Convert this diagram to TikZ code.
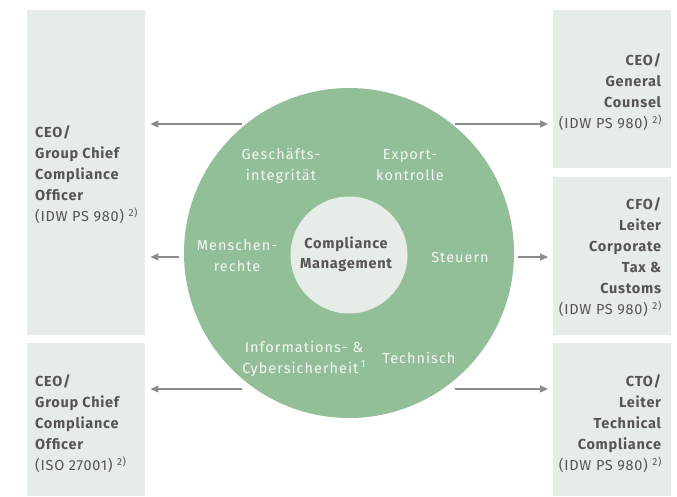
\documentclass[tikz,border=0pt]{standalone}
\usepackage{fontspec}
\setmainfont{Fira Sans}[LetterSpace=5]
\newfontfamily\ringfont{Fira Sans}[LetterSpace=7]
\usetikzlibrary{arrows.meta}
\definecolor{boxfill}{RGB}{230,237,230}
\definecolor{ringgreen}{RGB}{147,191,152}
\definecolor{txtdark}{RGB}{85,85,85}
\definecolor{arrowgray}{RGB}{140,140,140}
\definecolor{txtlight}{RGB}{244,247,244}
\newcommand{\hb}[1]{\textbf{#1}}
\begin{document}
\begin{tikzpicture}[x=1pt,y=-1pt,
  panel/.style={fill=boxfill, draw=none, rectangle, inner sep=0pt, anchor=north west},
  ptxt/.style={text=txtdark, inner sep=0pt, font=\fontsize{14.5}{21}\selectfont},
  ltxt/.style={ptxt, align=left, anchor=west},
  rtxt/.style={ptxt, align=right, anchor=east},
  ringtxt/.style={font=\ringfont\fontsize{14.5}{21}\selectfont, text=txtlight, align=center, inner sep=0pt},
  coretxt/.style={font=\fontsize{14.5}{20}\selectfont\bfseries, text=txtdark, align=center, inner sep=0pt},
  link/.style={draw=arrowgray, line width=1.2pt, -{Triangle[length=8pt,width=7pt]}, shorten >=5pt}
]
\useasboundingbox (0,0) rectangle (677,496);

% panels
\node[panel, minimum width=118pt, minimum height=325pt] (ltop) at (27,10) {};
\node[panel, minimum width=118pt, minimum height=153pt] (lbot) at (27,343) {};
\node[panel, minimum width=118pt, minimum height=158pt] (rtop) at (553,10) {};
\node[panel, minimum width=118pt, minimum height=158pt] (rmid) at (553,177) {};
\node[panel, minimum width=118pt, minimum height=153pt] (rbot) at (553,343) {};

% panel texts
\node[ltxt] (ltopt) at (35,175)
  {\hb{CEO/}\\\hb{Group Chief}\\\hb{Compliance}\\\hb{Officer}\\(IDW PS 980) \textsuperscript{2)}};
\node[ltxt] (lbott) at (35,424)
  {\hb{CEO/}\\\hb{Group Chief}\\\hb{Compliance}\\\hb{Officer}\\(ISO 27001) \textsuperscript{2)}};
\node[rtxt] (rtopt) at (662,92.5)
  {\hb{CEO/}\\\hb{General}\\\hb{Counsel}\\(IDW PS 980) \textsuperscript{2)}};
\node[rtxt] (rmidt) at (662,257.5)
  {\hb{CFO/}\\\hb{Leiter}\\\hb{Corporate}\\\hb{Tax \&}\\\hb{Customs}\\(IDW PS 980) \textsuperscript{2)}};
\node[rtxt] (rbott) at (662,424)
  {\hb{CTO/}\\\hb{Leiter}\\\hb{Technical}\\\hb{Compliance}\\(IDW PS 980) \textsuperscript{2)}};

% circles
\node[circle, fill=ringgreen, minimum size=330pt, inner sep=0pt] (outer) at (349,253) {};
\node[circle, fill=boxfill, minimum size=117pt, inner sep=0pt] (inner) at (349,255) {};

% ring labels
\node[ringtxt] (gi) at (281,165.5) {Geschäfts-\\integrität};
\node[ringtxt] (ek) at (410,165.5) {Export-\\kontrolle};
\node[ringtxt] (mr) at (237,256) {Menschen-\\rechte};
\node[coretxt] (cm) at (346,254) {Compliance\\Management};
\node[ringtxt] (st) at (460,257) {Steuern};
\node[ringtxt] (ic) at (304,358.5) {Informations- \&\\Cybersicherheit\,\textsuperscript{1}};
\node[ringtxt] (te) at (419,358) {Technisch};

% connectors
\coordinate (c1) at (242,124);
\coordinate (c2) at (179,257);
\coordinate (c3) at (242,389);
\coordinate (c4) at (455,124);
\coordinate (c5) at (518,257);
\coordinate (c6) at (455,389);
\draw[link] (c1) -- (c1 -| ltop.east);
\draw[link] (c2) -- (c2 -| ltop.east);
\draw[link] (c3) -- (c3 -| lbot.east);
\draw[link] (c4) -- (c4 -| rtop.west);
\draw[link] (c5) -- (c5 -| rmid.west);
\draw[link] (c6) -- (c6 -| rbot.west);
\end{tikzpicture}
\end{document}
